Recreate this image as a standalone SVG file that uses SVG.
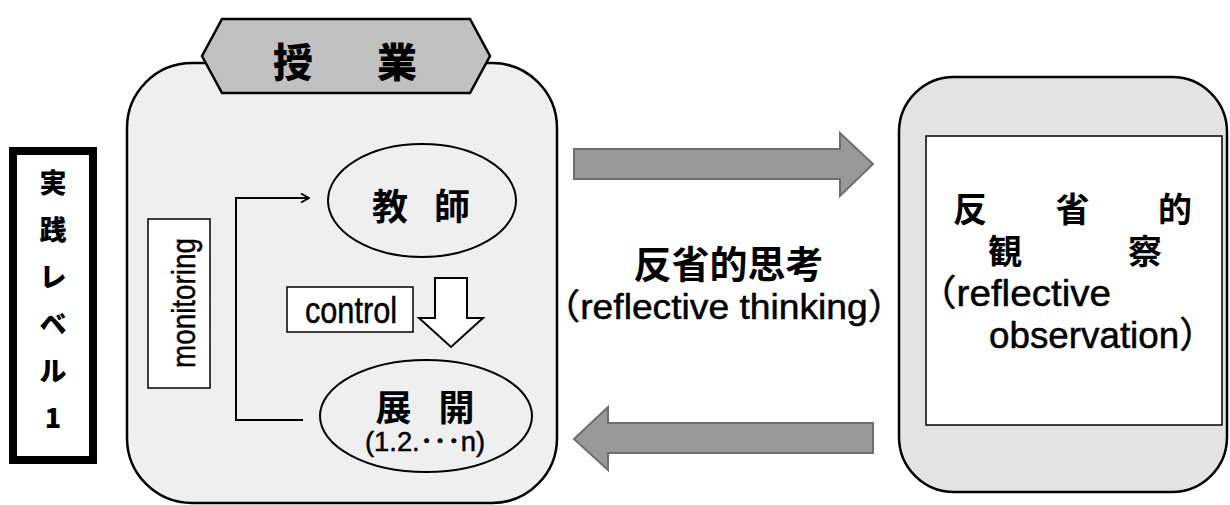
<svg xmlns="http://www.w3.org/2000/svg" width="1230" height="505" viewBox="0 0 1230 505">
  <defs>
    <style>
      .cjk { font-family: "Noto Sans CJK JP", "Noto Sans CJK SC", sans-serif; font-weight: 700; fill: #000; }
      .heavy { font-weight: 900; }
      .lat { font-family: "Liberation Sans", "Noto Sans CJK JP", sans-serif; fill: #000; stroke: #000; stroke-width: 0.5; }
      .box { fill: #fff; stroke: #000; stroke-width: 1.5; }
      .garrow { fill: #999999; stroke: #6e6e6e; stroke-width: 2; }
      .line { fill: none; stroke: #000; stroke-width: 2; }
    </style>
    <marker id="chev" viewBox="0 0 10 10" refX="9" refY="5" markerWidth="10" markerHeight="10" markerUnits="userSpaceOnUse" orient="auto">
      <path d="M1,0.5 L9,5 L1,9.5" fill="none" stroke="#000" stroke-width="1.8"/>
    </marker>
  </defs>

  <g id="practice-level">
    <rect x="13" y="151" width="80" height="309" fill="#fff" stroke="#000" stroke-width="8"/>
    <g class="cjk heavy" font-size="27" text-anchor="middle" dominant-baseline="central">
      <text x="53" y="181">実</text>
      <text x="53" y="228">践</text>
      <text x="53" y="275">レ</text>
      <text x="53" y="322">ベ</text>
      <text x="53" y="369">ル</text>
      <text x="53" y="416">1</text>
    </g>
  </g>

  <g id="lesson">
    <rect x="127" y="63" width="430" height="440" rx="65" ry="65" fill="#efefef" stroke="#000" stroke-width="2.5"/>
  </g>

  <g id="lesson-title">
    <polygon points="202,56 222,19 470,19 490,56 470,93 222,93" fill="#c0c0c0" stroke="#000" stroke-width="2.5"/>
    <g class="cjk heavy" font-size="40" text-anchor="middle" dominant-baseline="central">
      <text x="293" y="60">授</text>
      <text x="397" y="60">業</text>
    </g>
  </g>

  <g id="monitoring">
    <rect class="box" x="148" y="219" width="62" height="169"/>
    <text class="lat" font-size="34" text-anchor="middle" textLength="130" lengthAdjust="spacingAndGlyphs" transform="translate(195,303) rotate(-90)">monitoring</text>
  </g>

  <g id="control">
    <rect class="box" x="287" y="287" width="126" height="45"/>
    <text class="lat" x="305" y="323" font-size="36" textLength="92" lengthAdjust="spacingAndGlyphs">control</text>
  </g>

  <g id="teacher">
    <ellipse cx="422" cy="200.5" rx="94" ry="56.5" fill="none" stroke="#000" stroke-width="2"/>
    <g class="cjk" font-size="36" text-anchor="middle" dominant-baseline="central">
      <text x="390" y="204">教</text>
      <text x="452" y="204">師</text>
    </g>
  </g>

  <g id="development">
    <ellipse cx="426" cy="416" rx="106" ry="56" fill="none" stroke="#000" stroke-width="2"/>
    <g class="cjk" font-size="36" text-anchor="middle" dominant-baseline="central">
      <text x="393.5" y="405">展</text>
      <text x="456.5" y="405">開</text>
    </g>
    <text class="lat" x="365" y="451" font-size="27" textLength="120" lengthAdjust="spacingAndGlyphs">(1.2.･･･n)</text>
  </g>

  <g id="reflective-thinking">
    <text class="cjk" x="728.5" y="261" font-size="38" text-anchor="middle" dominant-baseline="central">反省的思考</text>
    <text class="lat" x="543" y="319" font-size="35" textLength="362" lengthAdjust="spacingAndGlyphs">（reflective thinking）</text>
  </g>

  <g id="reflective-observation">
    <rect x="899" y="77" width="328" height="415" rx="55" ry="55" fill="#e3e3e3" stroke="#000" stroke-width="2.5"/>
    <rect class="box" x="926" y="136" width="296" height="289"/>
    <g class="cjk" font-size="34" text-anchor="middle" dominant-baseline="central">
      <text x="970" y="207">反</text>
      <text x="1072.5" y="207">省</text>
      <text x="1175" y="207">的</text>
      <text x="1005" y="249">観</text>
      <text x="1145" y="249">察</text>
    </g>
    <text class="lat" x="918" y="306" font-size="36" textLength="193" lengthAdjust="spacingAndGlyphs">（reflective</text>
    <text class="lat" x="989" y="348" font-size="36" textLength="227" lengthAdjust="spacingAndGlyphs">observation）</text>
  </g>

  <g id="connectors">
    <polyline class="line" points="303,420 236,420 236,198 309,198" marker-end="url(#chev)"/>
    <polygon points="435,278 467,278 467,318 483,318 451,347 419,318 435,318" fill="#fff" stroke="#000" stroke-width="2"/>
    <polygon class="garrow" points="574,149 840,149 840,133 873,164 840,196 840,179 574,179"/>
    <polygon class="garrow" points="574,439 608,407 608,423 873,423 873,453 608,453 608,470"/>
  </g>
</svg>
